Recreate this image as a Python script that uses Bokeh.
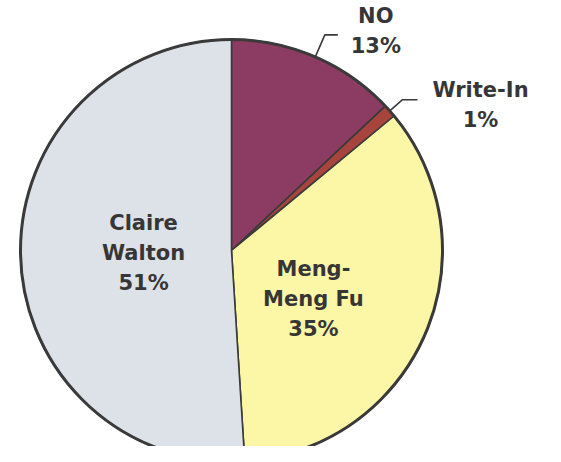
import math
from bokeh.plotting import figure
from bokeh.models import Range1d, ColumnDataSource
from bokeh.core.properties import value
from bokeh.embed import file_html
from bokeh.resources import INLINE

# ---- data ----
candidates = ["NO", "Write-In", "Meng-Meng Fu", "Claire Walton"]
percent = [13, 1, 35, 51]
label_lines = [["NO", "13%"], ["Write-In", "1%"], ["Meng-", "Meng Fu", "35%"], ["Claire", "Walton", "51%"]]
colors = ["#8C3B62", "#A8443E", "#FBF7A6", "#DCE2E7"]

# ---- layout (pixels, y measured upward) ----
W, H = 545, 446
CX, CY, R = 231, 212, 211
outside = [True, True, False, False]
leader_ext = [24, 17, 0, 0]
leader_len = [13, 15, 0, 0]
text_shift = [38, 63, 0, 0]
text_rise = [4, -5, 0, 0]
inside_dist = [0, 0, 95, 88]
inside_nudge = [0, 0, 7, 0]
FONT = "DejaVu Sans"
FS = 21
LINE_GAP = 30
TXT = "#363636"

p = figure(width=W, height=H, output_backend="svg", toolbar_location=None,
           x_range=Range1d(0, W), y_range=Range1d(462 - H, 462),
           min_border=0, outline_line_color=None)
p.axis.visible = False
p.grid.visible = False
p.background_fill_color = "white"
p.border_fill_color = "white"

total = float(sum(percent))
starts, ends, mids = [], [], []
cum = 0.0
for v in percent:
    a0 = cum / total * 2 * math.pi
    cum += v
    a1 = cum / total * 2 * math.pi
    starts.append(math.pi / 2 - a0)
    ends.append(math.pi / 2 - a1)
    mids.append((a0 + a1) / 2)

src = ColumnDataSource(dict(start=starts, end=ends, color=colors, name=candidates))
p.wedge(x=CX, y=CY, radius=R, start_angle="start", end_angle="end", direction="clock",
        fill_color="color", line_color="#3a3a3a", line_width=1.6, source=src)
p.circle(x=[CX], y=[CY], radius=R, fill_color=None, line_color="#3a3a3a", line_width=3)

tx, ty, tt = [], [], []
for i, m in enumerate(mids):
    lines = label_lines[i]
    if outside[i]:
        ex, ey = CX + R * math.sin(m), CY + R * math.cos(m)
        kx, ky = CX + (R + leader_ext[i]) * math.sin(m), CY + (R + leader_ext[i]) * math.cos(m)
        hx = kx + leader_len[i]
        p.line(x=[ex, kx, hx], y=[ey, ky, ky], line_color="#3a3a3a", line_width=1.6)
        bx, by = hx + text_shift[i], ky + text_rise[i]
    else:
        a = m + math.radians(inside_nudge[i])
        bx, by = CX + inside_dist[i] * math.sin(a), CY + inside_dist[i] * math.cos(a)
    n = len(lines)
    for j, s in enumerate(lines):
        tx.append(bx)
        ty.append(by + ((n - 1) / 2 - j) * LINE_GAP)
        tt.append(s)

p.text(x=tx, y=ty, text=tt, text_font=value(FONT), text_font_size=f"{FS}px",
       text_font_style="bold", text_color=TXT, text_align="center", text_baseline="middle")

open("out.html", "w").write(file_html(p, INLINE))
